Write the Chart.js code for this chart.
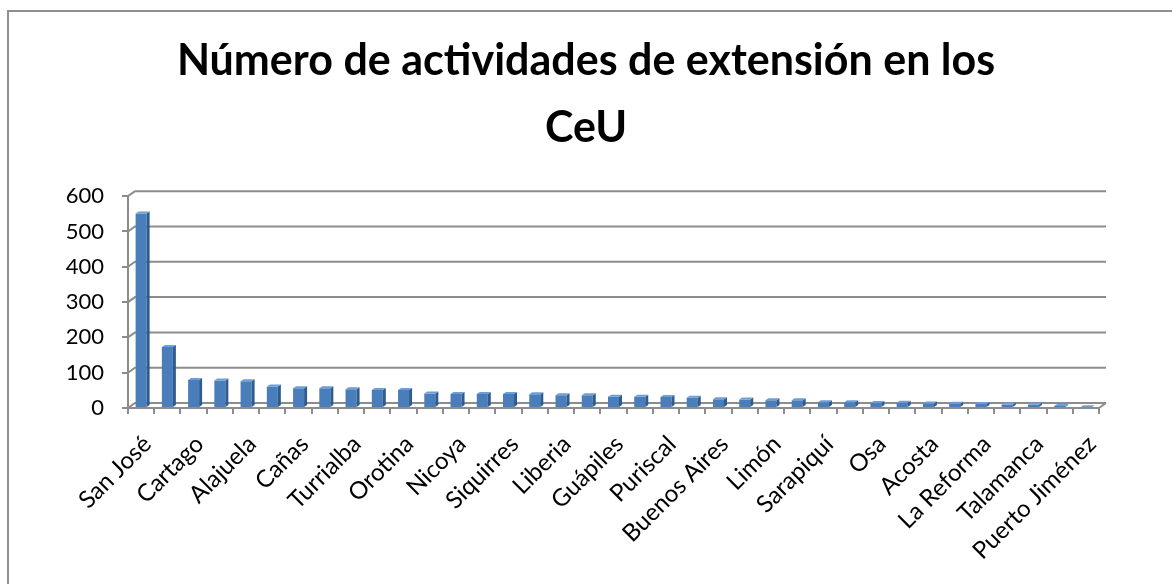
<!DOCTYPE html>
<html lang="es">
<head>
<meta charset="utf-8">
<title>Número de actividades de extensión en los CeU</title>
<script src="https://cdn.jsdelivr.net/npm/chart.js@4/dist/chart.umd.min.js"></script>
<style>
    html, body { margin: 0; padding: 0; background: #fff; overflow: hidden; }
    #wrap { position: relative; width: 1172px; height: 584px; }
    #frame {
        position: absolute; left: 7px; top: 10px; width: 1400px; height: 800px;
        border-left: 2px solid #8f8f8f; border-top: 2px solid #8f8f8f;
    }
    #chart { position: absolute; left: 0; top: 0; }
</style>
</head>
<body>
<div id="wrap">
    <div id="frame"></div>
    <canvas id="chart" width="1172" height="584"></canvas>
</div>
<script>
"use strict";

// datos del grafico
const titleLines = ['Número de actividades de extensión en los', 'CeU'];

const centros = [
    'San José', 'Heredia', 'Cartago', 'Pérez Zeledón', 'Alajuela', 'San Carlos',
    'Cañas', 'Palmares', 'Turrialba', 'Ciudad Neily', 'Orotina', 'Puntarenas',
    'Nicoya', 'San Vito', 'Siquirres', 'Santa Cruz', 'Liberia', 'Quepos',
    'Guápiles', 'Upala', 'Puriscal', 'San Marcos', 'Buenos Aires', 'Tilarán',
    'Limón', 'Desamparados', 'Sarapiquí', 'Atenas', 'Osa', 'La Cruz',
    'Acosta', 'Jicaral', 'La Reforma', 'Monteverde', 'Talamanca', 'Los Chiles',
    'Puerto Jiménez'
];

const actividades = [
    551, 173, 79, 78, 76, 61,
    56, 56, 53, 51, 51, 41,
    40, 40, 40, 39, 36, 36,
    32, 32, 31, 29, 25, 24,
    22, 22, 16, 16, 14, 15,
    13, 12, 11, 10, 9, 6,
    2
];

const yTicks = [0, 100, 200, 300, 400, 500, 600];

// estilos
const gridColor = '#8c8c8c';
const barFront = '#4A7EBB';
const barSide = '#2F5C8F';
const barTop = '#6E9ED8';
const wallDx = 7;
const wallDy = 5;

Chart.defaults.font.family = 'Lato, "Open Sans", sans-serif';
Chart.defaults.color = '#000';

// pared del fondo (efecto 3D)
const wall3d = {
    id: 'wall3d',
    beforeDatasetsDraw(chart) {
        const {ctx, chartArea: a, scales: {y}} = chart;
        ctx.save();
        ctx.strokeStyle = gridColor;
        ctx.lineWidth = 2;
        y.ticks.forEach(t => {
            const py = y.getPixelForValue(t.value);
            ctx.beginPath();
            ctx.moveTo(a.left, py);
            ctx.lineTo(a.left + wallDx, py - wallDy);
            ctx.lineTo(a.right + wallDx, py - wallDy);
            ctx.stroke();
        });
        const by = y.getPixelForValue(0);
        ctx.beginPath();
        ctx.moveTo(a.right, by);
        ctx.lineTo(a.right + wallDx, by - wallDy);
        ctx.stroke();
        ctx.restore();
    }
};

// caras laterales y superiores de las barras
const bars3d = {
    id: 'bars3d',
    afterDatasetsDraw(chart) {
        const {ctx} = chart;
        const d = 3, dv = 2;
        ctx.save();
        chart.getDatasetMeta(0).data.forEach(bar => {
            const {x, y, base, width} = bar.getProps(['x', 'y', 'base', 'width'], true);
            const l = x - width / 2, r = x + width / 2;
            ctx.fillStyle = barSide;
            ctx.beginPath();
            ctx.moveTo(r, y);
            ctx.lineTo(r + d, y - dv);
            ctx.lineTo(r + d, base - dv);
            ctx.lineTo(r, base);
            ctx.closePath();
            ctx.fill();
            ctx.fillStyle = barTop;
            ctx.beginPath();
            ctx.moveTo(l, y);
            ctx.lineTo(l + d, y - dv);
            ctx.lineTo(r + d, y - dv);
            ctx.lineTo(r, y);
            ctx.closePath();
            ctx.fill();
        });
        ctx.restore();
    }
};

const ctx = document.getElementById('chart').getContext('2d');
new Chart(ctx, {
    type: 'bar',
    data: {
        labels: centros,
        datasets: [{
            label: 'Actividades',
            data: actividades,
            backgroundColor: barFront,
            borderWidth: 0,
            barPercentage: 0.42,
            categoryPercentage: 1
        }]
    },
    options: {
        responsive: false,
        animation: false,
        layout: {
            padding: 0
        },
        plugins: {
            legend: {display: false},
            tooltip: {enabled: false},
            title: {
                display: true,
                text: titleLines,
                font: {size: 43, weight: 'bold', lineHeight: 1.56},
                padding: {top: 28, bottom: 34},
                color: '#000'
            }
        },
        scales: {
            x: {
                offset: true,
                grid: {
                    offset: true,
                    drawOnChartArea: false,
                    drawTicks: true,
                    tickLength: 6,
                    color: gridColor,
                    lineWidth: 2
                },
                border: {color: gridColor, width: 2},
                ticks: {
                    autoSkip: false,
                    maxRotation: 45,
                    minRotation: 45,
                    padding: 16,
                    labelOffset: 6,
                    font: {size: 24},
                    callback: (v, i) => (i % 2 === 0 ? centros[i] : '')
                },
                afterFit: s => { s.height = 176; }
            },
            y: {
                min: yTicks[0],
                max: yTicks[yTicks.length - 1],
                afterBuildTicks: s => { s.ticks = yTicks.map(v => ({value: v})); },
                grid: {
                    drawOnChartArea: false,
                    drawTicks: true,
                    tickLength: 6,
                    color: gridColor,
                    lineWidth: 2
                },
                border: {color: gridColor, width: 2},
                ticks: {
                    padding: 18,
                    font: {size: 22}
                },
                afterFit: s => { s.width = 128; }
            },
            // margen derecho para centrar el titulo
            margen: {
                position: 'right',
                grid: {display: false},
                border: {display: false},
                ticks: {display: false},
                afterFit: s => { s.width = 73; }
            }
        }
    },
    plugins: [wall3d, bars3d]
});
</script>
</body>
</html>
